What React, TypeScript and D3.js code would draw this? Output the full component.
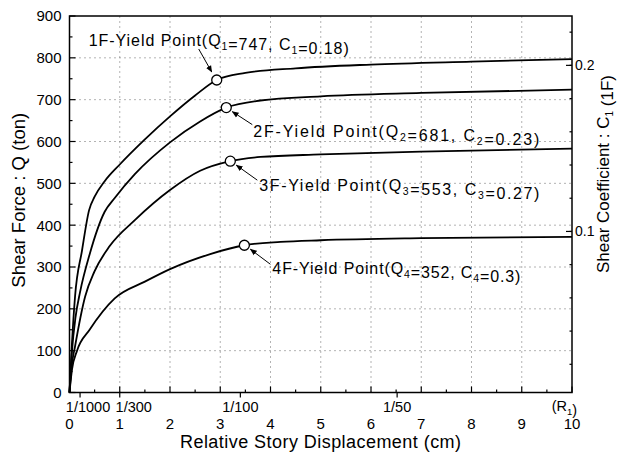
import React from 'react';
import * as d3 from 'd3';

// story drift curves (cm, ton)
const floors = ['1F', '2F', '3F', '4F'];
const disp1F = [0, 0.05, 0.11, 0.25, 0.39, 0.5, 0.7, 1.0, 1.5, 2.0, 2.5, 2.93, 3.5, 4.5, 6, 8, 10];
const shear1F = [0, 120, 229, 340, 436, 468, 505, 545, 605, 660, 710, 747, 764, 775, 784, 791, 797];
const disp2F = [0, 0.05, 0.12, 0.21, 0.4, 0.7, 0.9, 1.3, 2.0, 2.6, 3.12, 3.8, 5, 7, 10];
const shear2F = [0, 100, 180, 240, 330, 432, 465, 522, 598, 648, 681, 698, 708, 716, 724];
const disp3F = [0, 0.04, 0.11, 0.31, 0.5, 0.8, 1.3, 2.0, 2.6, 3.2, 3.8, 5, 7, 10];
const shear3F = [0, 60, 110, 229, 290, 350, 412, 484, 530, 553, 563, 569, 576, 583];
const disp4F = [0, 0.05, 0.15, 0.4, 0.9, 1.5, 2.0, 2.8, 3.48, 4.2, 5, 7, 10];
const shear4F = [0, 55, 100, 150, 225, 265, 295, 331, 352, 360, 364, 369, 372];

const yieldDisp = [2.93, 3.12, 3.2, 3.48];
const yieldQ = [747, 681, 553, 352];
const yieldC = ['0.18', '0.23', '0.27', '0.3'];

const xTicks = d3.range(0, 11);
const yTicks = d3.range(0, 1000, 100);
const ratioTicks = [0.21, 1.0, 3.4, 6.52];
const ratioLabels = ['1/1000', '1/300', '1/100', '1/50'];
const coefTicks = [0.1, 0.2];

const W = 617;
const H = 453;
const font = 'Liberation Sans, Arial, Helvetica, sans-serif';

export default function App() {
  const x = d3.scaleLinear().domain([0, 10]).range([69.5, 572]);
  const y = d3.scaleLinear().domain([0, 900]).range([392.5, 16]);
  // right axis: coefficient of 1F (not through zero in the drawing)
  const yc = d3.scaleLinear().domain([0.1, 0.2]).range([y(385), y(782)]);

  const series = [
    [disp1F, shear1F],
    [disp2F, shear2F],
    [disp3F, shear3F],
    [disp4F, shear4F],
  ];
  const line = d3
    .line<[number, number]>()
    .x((d) => x(d[0]))
    .y((d) => y(d[1]))
    .curve(d3.curveMonotoneX);

  const [x0, x1] = x.range();
  const [yb, yt] = y.range();

  // label layout relative to each yield point (px)
  const annot = [
    { tx: -128, ty: -34, ax: -18, ay: -31, hx: -5, hy: -8, len: 260 },
    { tx: 27, ty: 29, ax: 26, ay: 17, hx: 6, hy: 4, len: 286 },
    { tx: 29, ty: 30, ax: 27, ay: 19, hx: 6, hy: 4, len: 280 },
    { tx: 28, ty: 29, ax: 26, ay: 19, hx: 6, hy: 4, len: 248 },
  ];
  const ratioDx = [8, 14, 0, 0];

  const sub = (s: string, size = 10.5) => (
    <>
      <tspan fontSize={size} dy="4">{s}</tspan>
      <tspan dy="-4"></tspan>
    </>
  );

  return (
    <svg
      width={W}
      height={H}
      style={{ position: 'absolute', left: 0, top: 0, background: '#fff' }}
      fontFamily={font}
    >
      <defs>
        <marker id="ah" viewBox="0 0 10 10" refX="9" refY="5" markerWidth="7" markerHeight="7" orient="auto">
          <path d="M0,1 L10,5 L0,9 z" fill="#000" />
        </marker>
      </defs>

      {/* grid */}
      <g stroke="#666" strokeWidth={1} strokeDasharray="1 4">
        {xTicks.slice(1, -1).map((t) => (
          <line key={'gx' + t} x1={x(t)} x2={x(t)} y1={yb} y2={yt} />
        ))}
        {yTicks.slice(1, -1).map((t) => (
          <line key={'gy' + t} x1={x0} x2={x1} y1={y(t)} y2={y(t)} />
        ))}
      </g>

      {/* frame */}
      <rect x={x0} y={yt} width={x1 - x0} height={yb - yt} fill="none" stroke="#000" strokeWidth={1.5} />

      {/* ticks */}
      <g stroke="#000" strokeWidth={1.2}>
        {d3.range(0, 901, 50).map((t) => (
          <line key={'ly' + t} x1={x0} x2={x0 + (t % 100 === 0 ? 6 : 3)} y1={y(t)} y2={y(t)} />
        ))}
        {d3.range(0, 10.01, 0.5).map((t) => (
          <line key={'bx' + t} x1={x(t)} x2={x(t)} y1={yb} y2={yb - (t % 1 === 0 ? 6 : 3)} />
        ))}
        {ratioTicks.map((t) => (
          <line key={'rt' + t} x1={x(t)} x2={x(t)} y1={yb} y2={yb + 5} />
        ))}
        {coefTicks.map((t) => (
          <line key={'ct' + t} x1={x1} x2={x1 - 6} y1={yc(t)} y2={yc(t)} />
        ))}
        {d3.range(0.02, 0.23, 0.02).map((t) => (
          <line key={'cm' + t} x1={x1} x2={x1 - 2.5} y1={yc(t)} y2={yc(t)} />
        ))}
      </g>

      <g fontSize="15" fill="#000">
        {yTicks.map((t) => (
          <text key={'yl' + t} x={x0 - 8} y={y(t)} dy="0.36em" textAnchor="end">
            {t}
          </text>
        ))}
        {xTicks.map((t) => (
          <text key={'xl' + t} x={x(t)} y={429} textAnchor="middle">
            {t}
          </text>
        ))}
      </g>
      <g fontSize="14.5" fill="#000">
        {ratioTicks.map((t, i) => (
          <text key={'rl' + t} x={x(t) + ratioDx[i]} y={412} textAnchor="middle">
            {ratioLabels[i]}
          </text>
        ))}
        <text x={x(9.85)} y={411} textAnchor="middle">
          (R{sub('1', 9.5)})
        </text>
      </g>
      <g fontSize="14" fill="#000">
        {coefTicks.map((t) => (
          <text key={'cl' + t} x={x1 + 3} y={yc(t)} dy="0.36em">
            {t}
          </text>
        ))}
      </g>

      {/* curves */}
      <g fill="none" stroke="#000" strokeWidth={1.8}>
        {series.map(([xs, ys], i) => (
          <path key={floors[i]} d={line(xs.map((v, j) => [v, ys[j]]) as [number, number][]) || ''} />
        ))}
      </g>

      {/* yield points */}
      {floors.map((f, i) => {
        const cx = x(yieldDisp[i]);
        const cy = y(yieldQ[i]);
        const a = annot[i];
        const n = String(i + 1);
        return (
          <g key={'yp' + f}>
            <line
              x1={cx + a.ax}
              y1={cy + a.ay}
              x2={cx + a.hx}
              y2={cy + a.hy}
              stroke="#000"
              strokeWidth={1}
              markerEnd="url(#ah)"
            />
            <circle cx={cx} cy={cy} r={5} fill="#fff" stroke="#000" strokeWidth={1.3} />
            <text
              x={cx + a.tx}
              y={cy + a.ty}
              fontSize="16"
              textLength={a.len}
              lengthAdjust="spacing"
              fill="#000"
            >
              {f}-Yield Point(Q{sub(n)}={yieldQ[i]}, C{sub(n)}={yieldC[i]})
            </text>
          </g>
        );
      })}

      {/* axis titles */}
      <text x={(x0 + x1) / 2} y={448} textAnchor="middle" fontSize="18" letterSpacing="0.45">
        Relative Story Displacement (cm)
      </text>
      <text transform={`translate(25,${(yb + yt) / 2 - 4}) rotate(-90)`} textAnchor="middle" fontSize="18.5">
        Shear Force : Q (ton)
      </text>
      <text transform={`translate(609,174) rotate(-90)`} textAnchor="middle" fontSize="17">
        Shear Coefficient : C{sub('1', 10)} (1F)
      </text>
    </svg>
  );
}
